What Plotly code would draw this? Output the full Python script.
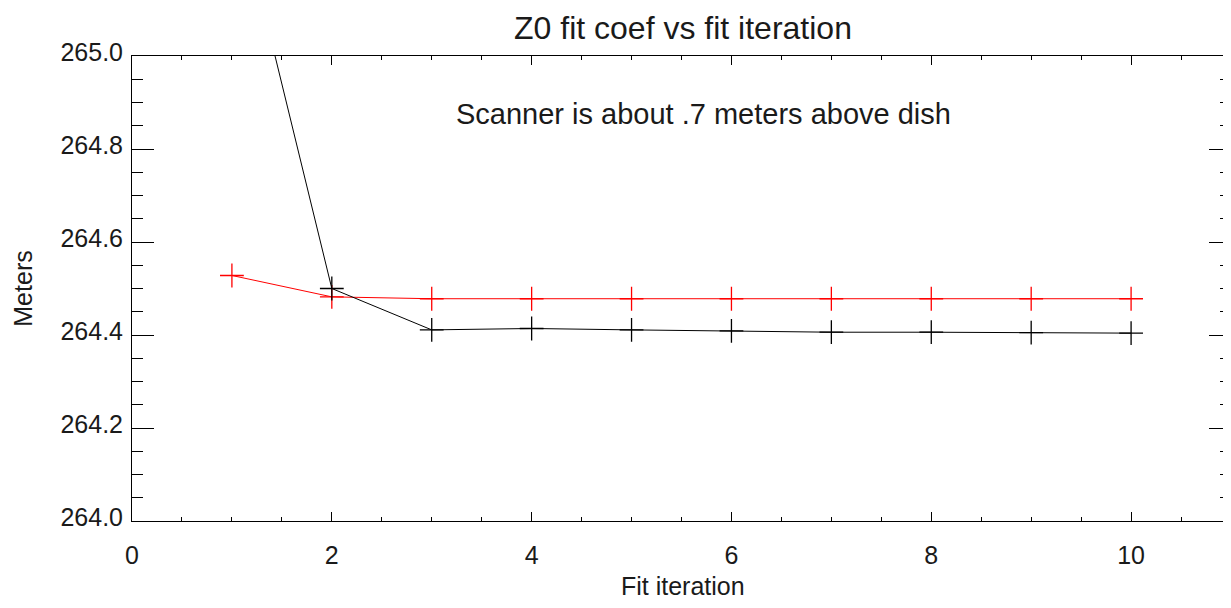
import plotly.graph_objects as go

# Data
iterations = [1, 2, 3, 4, 5, 6, 7, 8, 9, 10]
z0_black = [265.38, 264.500, 264.411, 264.414, 264.411, 264.409, 264.406, 264.406, 264.405, 264.404]
z0_red = [264.528, 264.482, 264.478, 264.478, 264.478, 264.478, 264.478, 264.478, 264.478, 264.478]

x_ticks = [0, 2, 4, 6, 8, 10]
y_ticks = [264.0, 264.2, 264.4, 264.6, 264.8, 265.0]
y_ticktext = ["264.0", "264.2", "264.4", "264.6", "264.8", "265.0"]
x_range = [0, 11]
y_range = [264.0, 265.0]

title_text = "Z0 fit coef vs fit iteration"
note_text = "Scanner is about .7 meters above dish"
x_title = "Fit iteration"
y_title = "Meters"

FONT = "Liberation Sans, Arial, Helvetica, sans-serif"
TXT = "#1a1a1a"

fig = go.Figure()
fig.add_trace(go.Scatter(
    x=iterations, y=z0_red, mode="lines+markers",
    line=dict(color="#ff0000", width=1),
    marker=dict(symbol="cross-thin", size=17, color="#ff0000",
                line=dict(color="#ff0000", width=1.3)),
    showlegend=False,
))
fig.add_trace(go.Scatter(
    x=iterations, y=z0_black, mode="lines+markers",
    line=dict(color="#000000", width=1),
    marker=dict(symbol="cross-thin", size=17, color="#000000",
                line=dict(color="#000000", width=1.3)),
    showlegend=False,
))

# page body adds an 8px margin all round; size the figure so the page does not scroll
OFF = 8
W, H = 1231 - OFF, 608 - 2 * OFF
L, T = 132 - OFF, 56 - OFF
R = 0
B = H - (521 - OFF)
PH = H - B - T
fig.update_layout(
    width=W, height=H,
    margin=dict(l=L, r=R, t=T, b=B, autoexpand=False),
    paper_bgcolor="white", plot_bgcolor="white",
    font=dict(family=FONT, color=TXT, size=25),
    title=dict(text=title_text, x=((683 - OFF) / W), xanchor="center",
               y=1 - (28 - OFF) / H, yanchor="middle", yref="container",
               font=dict(size=32, family=FONT, color=TXT)),
    annotations=[
        dict(text=note_text, xref="paper", yref="paper",
             x=(703 - OFF - L) / (W - L - R),
             y=(H - B - (114 - OFF)) / PH,
             xanchor="center", yanchor="middle", showarrow=False,
             font=dict(size=29, family=FONT, color=TXT)),
        dict(text=x_title, xref="paper", yref="paper",
             x=(683 - OFF - L) / (W - L - R),
             y=-((586 - OFF) - (H - B)) / PH,
             xanchor="center", yanchor="middle", showarrow=False,
             font=dict(size=25, family=FONT, color=TXT)),
    ],
)

common = dict(ticks="inside", tickwidth=1, tickcolor="black",
              linecolor="black", linewidth=1, showgrid=False, zeroline=False,
              automargin=False)

fig.update_layout(
    xaxis=dict(
        range=x_range, tickvals=x_ticks, ticklen=9, mirror=False, showline=True,
        ticklabelstandoff=12,
        tickfont=dict(size=25, family=FONT, color=TXT),
        minor=dict(dtick=0.5, ticks="inside", ticklen=4, tickcolor="black", tickwidth=1, showgrid=False),
        **common),
    yaxis=dict(
        range=y_range, tickvals=y_ticks, ticktext=y_ticktext, ticklen=22, mirror=False, showline=True,
        ticklabelstandoff=3, ticklabelshift=-4,
        tickfont=dict(size=25, family=FONT, color=TXT),
        minor=dict(dtick=0.05, ticks="inside", ticklen=11, tickcolor="black", tickwidth=1, showgrid=False),
        title=dict(text=y_title, font=dict(size=25, family=FONT, color=TXT), standoff=20),
        **common),
    xaxis2=dict(
        range=x_range, tickvals=x_ticks, ticklen=9, overlaying="x", side="top",
        showticklabels=False, matches="x", showline=True,
        minor=dict(dtick=0.5, ticks="inside", ticklen=4, tickcolor="black", tickwidth=1, showgrid=False),
        **common),
    yaxis2=dict(
        range=y_range, tickvals=y_ticks, ticklen=22, overlaying="y", side="right",
        showticklabels=False, matches="y", showline=False,
        minor=dict(dtick=0.05, ticks="inside", ticklen=11, tickcolor="black", tickwidth=1, showgrid=False),
        **common),
)
# invisible helper trace so the mirrored axes are drawn
fig.add_trace(go.Scatter(x=[], y=[], xaxis="x2", yaxis="y2", showlegend=False, hoverinfo="skip"))

fig.write_html("out.html")
